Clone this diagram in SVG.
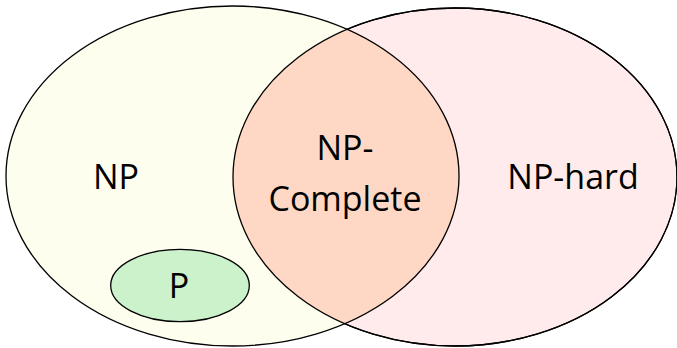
<svg xmlns="http://www.w3.org/2000/svg" width="677" height="348" viewBox="0 0 677 348">
  <style>
    .set { stroke: #000; stroke-width: 1.3; }
    .label { font-family: "Open Sans", "Noto Sans", sans-serif; font-size: 34px; fill: #000; text-anchor: middle; }
  </style>
  <defs>
    <clipPath id="clip-np">
      <ellipse cx="232.5" cy="176" rx="226.5" ry="170"/>
    </clipPath>
  </defs>
  <rect width="677" height="348" fill="#fff"/>

  <g id="np-hard">
    <ellipse class="set" cx="455" cy="177" rx="222" ry="169" fill="#ffebeb"/>
  </g>

  <g id="np">
    <ellipse cx="232.5" cy="176" rx="226.5" ry="170" fill="#fefeef"/>
  </g>

  <g id="np-complete">
    <ellipse cx="455" cy="177" rx="222" ry="169" fill="#fed8c4" clip-path="url(#clip-np)"/>
  </g>

  <g id="outlines" fill="none">
    <ellipse class="set" cx="232.5" cy="176" rx="226.5" ry="170"/>
    <ellipse class="set" cx="455" cy="177" rx="222" ry="169"/>
  </g>

  <g id="p">
    <ellipse class="set" cx="180" cy="285.5" rx="69.3" ry="36.2" fill="#ccf2cc"/>
    <text class="label" x="179" y="298">P</text>
  </g>

  <g id="labels">
    <text class="label" x="116" y="189">NP</text>
    <text class="label" x="345" y="160">NP-</text>
    <text class="label" x="345" y="211">Complete</text>
    <text class="label" x="573" y="189">NP-hard</text>
  </g>
</svg>
